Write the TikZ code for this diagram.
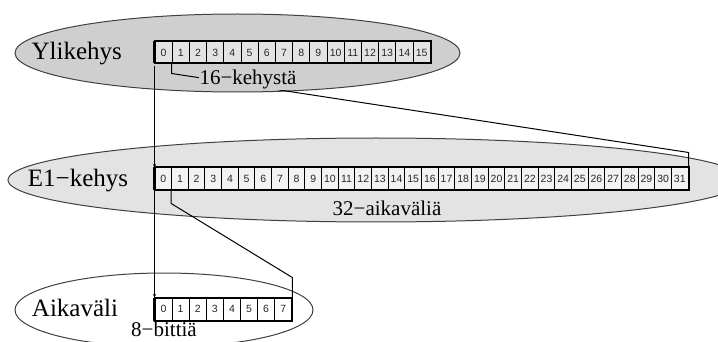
\documentclass[tikz,border=0pt]{standalone}
\usepackage{fontspec}
\setmainfont{Liberation Serif}
\newfontfamily\cellfont{Liberation Sans}
\usetikzlibrary{arrows.meta}

\begin{document}
\begin{tikzpicture}[
        x=1pt, y=-1pt,
        line width=1pt,
        cell/.style={draw, line width=1pt, inner sep=0pt, fill=#1,
            font=\cellfont\fontsize{10.5}{11}\selectfont, text=black!85},
        big/.style={anchor=base, inner sep=0pt, font=\fontsize{25}{30}\selectfont},
        small/.style={anchor=base, inner sep=1pt, font=\fontsize{21}{25}\selectfont},
        blob/.style={draw=black!75, line width=1pt},
        tip/.style={-{Stealth[length=3.5pt,width=3pt]}},
        ]
    \clip (0,0) rectangle (718,342);

    % the three levels
    \draw[blob, fill=black!19] (237.5,53) ellipse [x radius=222.5pt, y radius=39pt];
    \draw[blob, fill=black!11] (376,180) ellipse [x radius=368pt, y radius=42pt];
    \draw[blob, fill=white] (164,310) ellipse [x radius=149pt, y radius=37pt];

    % slots
    \foreach \r/\n/\w/\y/\h/\f in {
        y/15/17.2/52.5/21/black!11,
        e/31/16.66/179/22/black!5,
        a/7/17.1/309/22/white}
    {
        \foreach \i in {0,...,\n}
            \node[cell=\f, minimum width=\w pt, minimum height=\h pt]
                (\r\i) at (155+\w*\i+\w/2, \y) {\i};
        \draw[line width=2pt] (\r0.north west) rectangle (\r\n.south east);
        \draw[line width=3.5pt] (\r0.north west) -- (\r0.south west);
    }

    % zoom lines
    \draw (y1.south west) -- ++(0,10) -- ([yshift=15pt]e31.north east) -- (e31.north east);
    \draw (e1.south west) -- ++(0,13) -- ([yshift=20pt]a7.north east) -- (a7.north east);
    \draw[tip] ([yshift=-3pt]y0.south west) -- (e0.north west);
    \draw[tip] ([yshift=-1pt]e0.south west) -- (a0.north west);

    \node[big] (ylikehys) at (76.7,60) {Ylikehys};
    \node[big] (e1kehys) at (78,186.7) {E1−kehys};
    \node[big] (aikavali) at (75,316.7) {Aikaväli};

    \node[small, fill=black!19] (kehysta) at (248,84.7) {16−kehystä};
    \node[small] (aikavalia) at (387,215) {32−aikaväliä};
    \node[small, inner sep=0pt] (bittia) at (164,336.5) {8−bittiä};
\end{tikzpicture}
\end{document}
